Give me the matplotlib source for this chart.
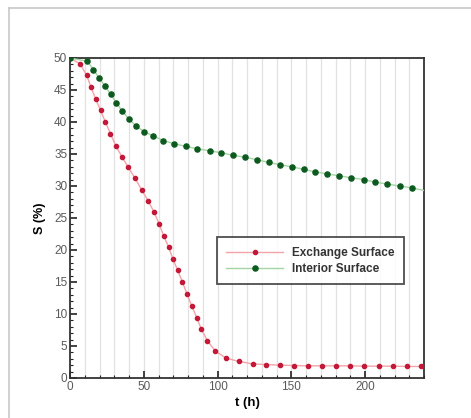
import matplotlib
matplotlib.use("Agg")
import matplotlib.pyplot as plt
from matplotlib.ticker import MultipleLocator
from matplotlib.lines import Line2D

plt.rcParams['font.family'] = ['Liberation Sans', 'DejaVu Sans']

# Exchange Surface (red)
t_ex = [0, 6.8, 11.3, 14.3, 17.4, 20.8, 24.0, 27.4, 31.0, 35.1, 39.6, 44.1, 48.6,
        53.2, 57.0, 60.4, 63.5, 67.0, 69.7, 73.1, 76.2, 79.4, 82.6, 86.0, 89.1,
        93.2, 98.6, 105.9, 114.3, 123.8, 133.0, 142.5, 151.6, 161.1, 170.8, 180.5,
        190.0, 199.1, 209.3, 218.8, 228.5, 238.0]
s_ex = [50, 49.1, 47.3, 45.4, 43.6, 41.8, 40.0, 38.2, 36.3, 34.6, 32.9, 31.2, 29.4,
        27.6, 25.9, 24.1, 22.2, 20.4, 18.6, 16.8, 15.0, 13.1, 11.2, 9.4, 7.6,
        5.8, 4.2, 3.1, 2.6, 2.2, 2.1, 2.0, 1.95, 1.9, 1.9, 1.9,
        1.9, 1.85, 1.85, 1.85, 1.8, 1.8]

# Interior Surface (green)
t_in = [0, 11.8, 15.8, 19.7, 23.5, 27.6, 31.4, 35.5, 39.8, 44.6, 50.2, 56.6, 63.3,
        70.6, 78.5, 86.4, 94.6, 102.5, 110.4, 118.8, 126.7, 134.6, 142.5, 150.5,
        158.4, 166.3, 174.2, 182.1, 190.5, 199.1, 207.0, 214.9, 223.5, 231.9, 240.0]
s_in = [50, 49.5, 48.2, 46.9, 45.7, 44.3, 43.0, 41.7, 40.5, 39.4, 38.5, 37.8, 37.1,
        36.6, 36.2, 35.8, 35.5, 35.2, 34.8, 34.5, 34.1, 33.7, 33.3, 33.0,
        32.6, 32.2, 31.9, 31.6, 31.3, 31.0, 30.6, 30.3, 30.0, 29.7, 29.3]

x_ticks = [0, 50, 100, 150, 200]
y_ticks = [0, 5, 10, 15, 20, 25, 30, 35, 40, 45, 50]

fig = plt.figure(figsize=(4.71, 4.18), dpi=100)
fig.patch.set_facecolor('white')

# outer light border (left and top)
fig.add_artist(Line2D([9/471, 9/471], [0, 1 - 8/418], color='#c8c8c8', lw=1.2,
                      transform=fig.transFigure))
fig.add_artist(Line2D([9/471, 1], [1 - 8/418, 1 - 8/418], color='#c8c8c8', lw=1.2,
                      transform=fig.transFigure))

ax = fig.add_axes([70/471, 1 - 378/418, 354/471, 320/418])

red_line = '#f4a3a8'
red_mark = '#c41838'
green_line = '#a3d6a3'
green_mark = '#0d5a1f'

ax.plot(t_ex, s_ex, '-', color=red_line, lw=1.0, marker='o', ms=3.0,
        mfc=red_mark, mec=red_mark, label='Exchange Surface', zorder=3)
ax.plot(t_in, s_in, '-', color=green_line, lw=1.0, marker='o', ms=3.7,
        mfc=green_mark, mec=green_mark, markevery=list(range(len(t_in) - 1)),
        label='Interior Surface', zorder=3)

ax.set_xlim(0, 240)
ax.set_ylim(0, 50)
ax.set_xticks(x_ticks)
ax.set_yticks(y_ticks)
ax.xaxis.set_minor_locator(MultipleLocator(10))
ax.yaxis.set_minor_locator(MultipleLocator(1))
ax.grid(which='both', axis='x', color='#e2e2e2', lw=0.9)
ax.set_axisbelow(True)

ax.tick_params(which='major', direction='in', length=5, width=1.2, color='#222222',
               labelsize=8.5, labelcolor='#5a5a5a', top=False, right=False, pad=2)
ax.tick_params(which='minor', direction='in', length=2.5, width=0.8, color='#222222',
               top=False, right=False)

for sp in ax.spines.values():
    sp.set_color('#333333')
    sp.set_linewidth(1.3)

ax.set_xlabel('t (h)', fontsize=9.5, fontweight='bold', labelpad=3)
ax.set_ylabel('S (%)', fontsize=9, fontweight='bold', labelpad=6)

leg = ax.legend(loc='upper left', bbox_to_anchor=(0.415, 0.44),
                prop={'weight': 'bold', 'size': 8.5}, frameon=True, fancybox=False,
                handlelength=4.8, borderpad=0.8, labelspacing=0.35, handletextpad=0.8,
                borderaxespad=0)
leg.get_frame().set_edgecolor('#222222')
leg.get_frame().set_linewidth(1.3)
for txt in leg.get_texts():
    txt.set_color('#333333')

fig.savefig('out.png', dpi=100, facecolor='white')
